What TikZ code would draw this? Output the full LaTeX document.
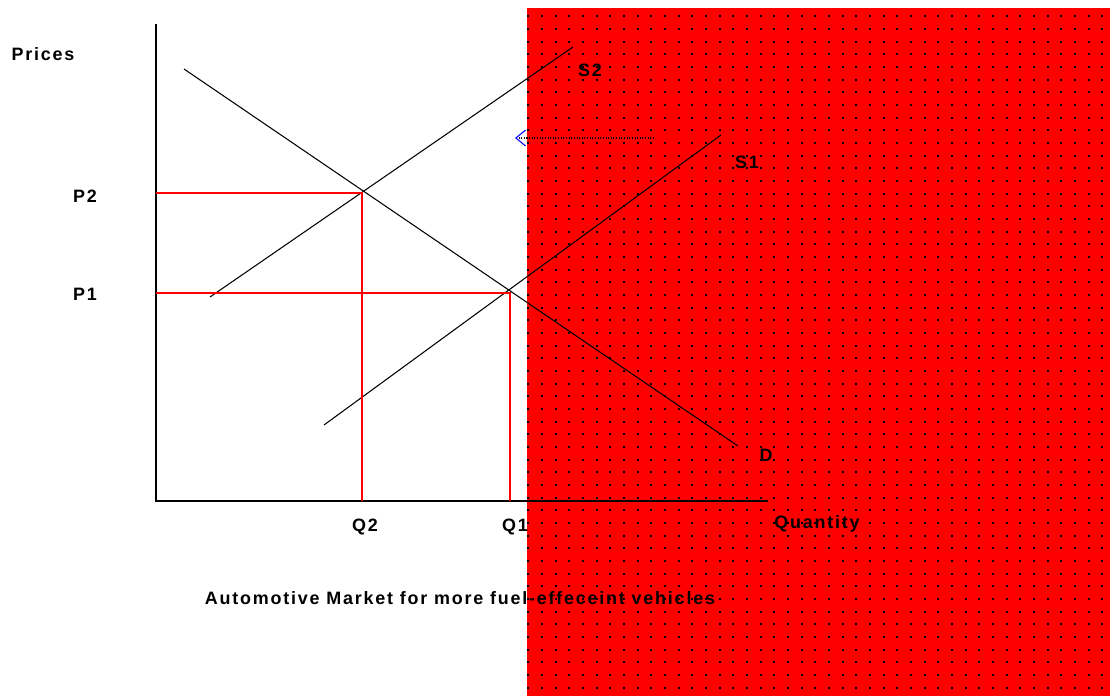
\documentclass[tikz,border=0pt]{standalone}
\usepackage{fontspec}
\usetikzlibrary{arrows.meta}
\newfontfamily\lblfont[LetterSpace=10]{Liberation Sans}

\begin{document}
\begin{tikzpicture}[x=0.02cm,y=-0.02cm,line width=0.6pt,
    lbl/.style={font=\lblfont\bfseries\fontsize{10.2}{12}\selectfont,inner sep=0pt},
    curve/.style={black,line width=0.6pt},
    guide/.style={red,line width=0.6pt}]
  \def\DX{13.67} % 点阵水平间距
  \def\DY{12.67} % 点阵竖直间距

  \useasboundingbox (0,0) rectangle (1110,696);

  % ================= 红色点阵背景 =================
  \fill[red] (527,8) rectangle (1110,696);
  \foreach \i in {0,...,42}
    \foreach \j in {0,...,53}
      \fill[black] (528.3+\i*\DX-1,16.3+\j*\DY-1) rectangle ++(2,2);

  % ================= 坐标轴 =================
  \coordinate (ytop) at (156,24);
  \coordinate (orig) at (156,501);
  \coordinate (xend) at (768,501);
  \draw[line width=1.7pt] (ytop) -- (orig) -- (xend);

  % ================= 需求与供给曲线 =================
  \coordinate (d0) at (184,69);   \coordinate (d1) at (738,446);
  \coordinate (sa0) at (210,297); \coordinate (sa1) at (573,47);
  \coordinate (sb0) at (324,425); \coordinate (sb1) at (721,135);
  \draw[curve] (d0) -- (d1);
  \draw[curve] (sa0) -- (sa1);
  \draw[curve] (sb0) -- (sb1);

  % ================= 均衡点引线 =================
  \coordinate (e2) at (362,193);
  \coordinate (e1) at (510,293);
  \draw[guide] (orig |- e2) -- (e2) -- (e2 |- orig);
  \draw[guide] (orig |- e1) -- (e1) -- (e1 |- orig);

  % 供给左移
  \coordinate (shf0) at (654,138);
  \coordinate (shf1) at (515,138);
  \draw[black,dash pattern=on 0.6pt off 0.9pt,
        -{Straight Barb[blue,length=5.5pt,width=9pt,line width=0.6pt]}] (shf0) -- (shf1);

  % ================= 标签 =================
  \node[lbl] (prices) at (43,54) {Prices};
  \node[lbl] (p2) at (85,196) {P2};
  \node[lbl] (p1) at (85,294) {P1};
  \node[lbl] (s2) at (590,70) {S2};
  \node[lbl] (s1) at (747,162) {S1};
  \node[lbl] (dl) at (766,455) {D};
  \node[lbl] (q2) at (365,527) {Q2};
  \node[lbl] (q1) at (515,527) {Q1};
  \node[lbl] (qty) at (817,524) {Quantity};
  \node[lbl] (cap) at (460,598) {Automotive Market for more fuel-effeceint vehicles};
\end{tikzpicture}
\end{document}
